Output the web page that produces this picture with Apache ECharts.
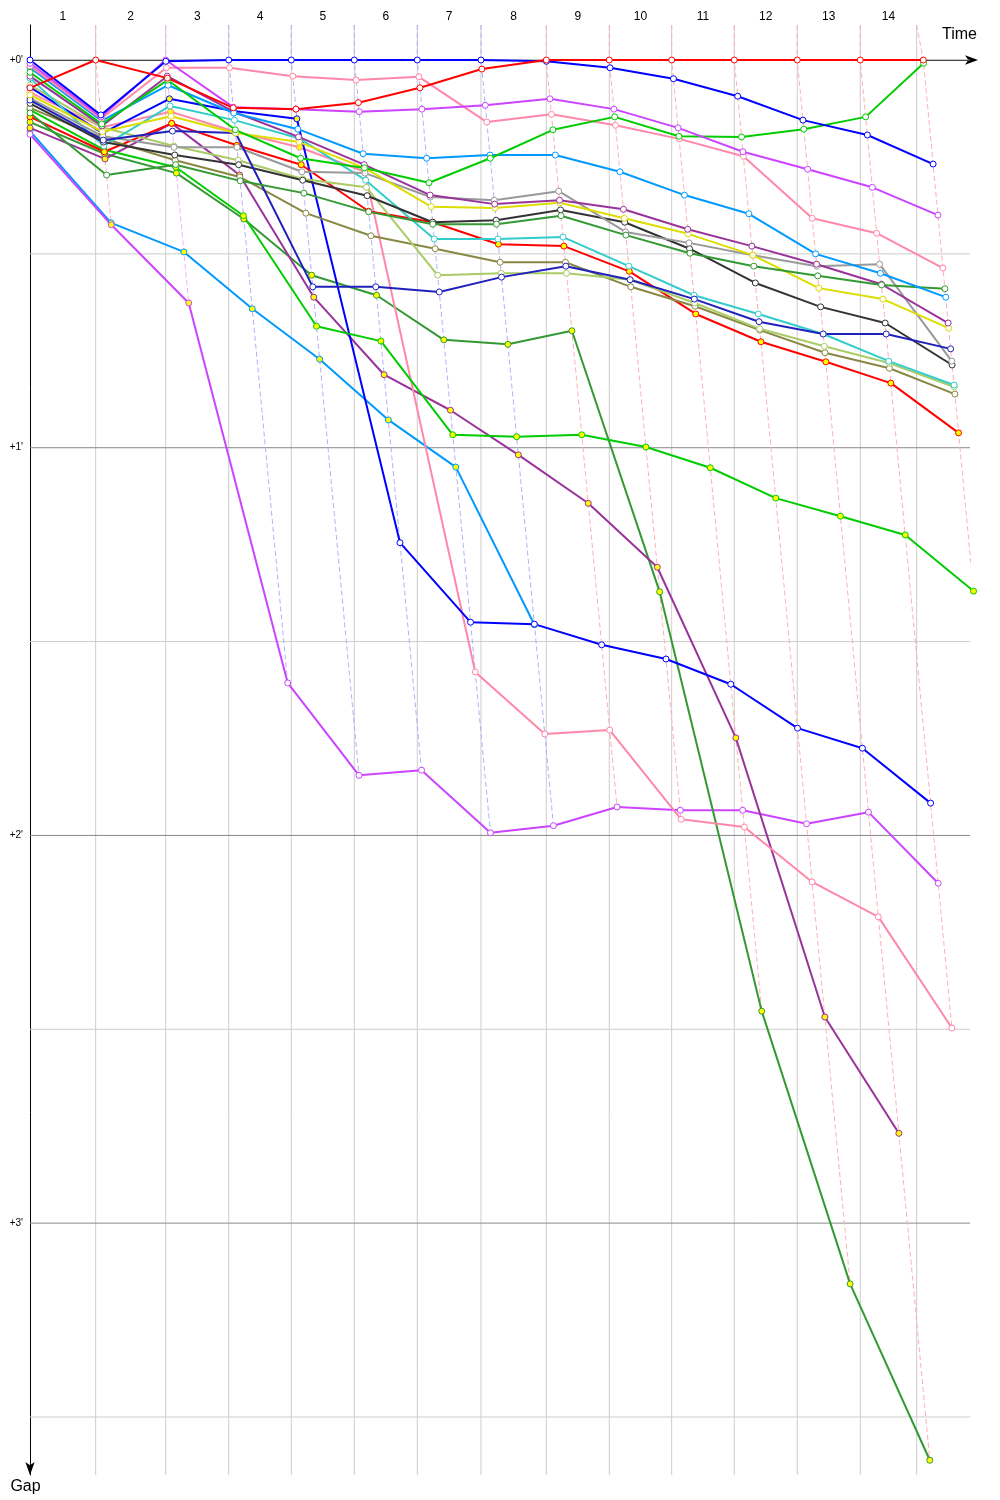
<!DOCTYPE html>
<html>
<head>
<meta charset="utf-8">
<script src="https://cdn.jsdelivr.net/npm/echarts@6/dist/echarts.min.js"></script>
<style>
  html, body { margin: 0; padding: 0; background: #fff; }
  #chart { width: 1000px; height: 1500px; }
</style>
</head>
<body>
<div id="chart"></div>
<script>
// temps (s) du leader à chaque tour, et lignes de grille verticales
var lapTimes = [0, 107.4, 221.9, 324.9, 427.2, 530.2, 633.2, 737.3, 844.1, 947.1, 1049.1, 1151.4, 1254.4, 1357.4, 1460.4];
var lapGrid = [107.4, 221.9, 324.9, 427.2, 530.2, 633.2, 737.3, 844.1, 947.1, 1049.1, 1151.4, 1254.4, 1357.4, 1449.6];
var lapLabels = ['1', '2', '3', '4', '5', '6', '7', '8', '9', '10', '11', '12', '13', '14'];
var gapTicks = [0, 60, 120, 180];
var gapHalfTicks = [30, 90, 150, 210];

// écarts (s) par tour, tour 0 = départ
var gapRed1 = [4.3, 0, 2.8, 7.4, 7.6, 6.6, 4.3, 1.4, 0, 0, 0, 0, 0, 0, 0];
var gapBlue1 = [0, 8.5, 0.2, 0, 0, 0, 0, 0, 0.2, 1.2, 2.9, 5.6, 9.3, 11.6, 16.1];
var gapMagenta1 = [0.5, 8.8, 0, 7.3, 7.6, 8.0, 7.6, 7.0, 6.0, 7.6, 10.5, 14.2, 16.9, 19.7, 24.0];
var gapPink1 = [0.9, 9.1, 1.2, 1.2, 2.5, 3.1, 2.6, 9.6, 8.4, 10.1, 12.2, 14.9, 24.5, 26.8, 32.2];
var gapLightBlue1 = [1.2, 9.4, 3.9, 8.2, 10.7, 14.5, 15.2, 14.7, 14.7, 17.3, 20.9, 23.8, 30.0, 33.0, 36.7];
var gapGreen1 = [1.9, 9.9, 3.1, 10.8, 15.2, 16.7, 19.0, 15.2, 10.8, 8.8, 11.8, 11.9, 10.7, 8.8, 0.5];
var gapPurple1 = [2.5, 10.2, 2.5, 8.0, 11.9, 16.2, 20.9, 22.3, 21.7, 23.1, 26.2, 28.8, 31.6, 34.7, 40.7];
var gapYellow = [5.4, 11.1, 8.7, 11.3, 12.7, 16.7, 22.7, 22.9, 22.1, 24.5, 26.9, 30.2, 35.3, 37.0, 41.5];
var gapNavy = [6.2, 12.4, 11.0, 11.3, 35.1, 35.1, 35.9, 33.6, 31.9, 34.0, 37.0, 40.5, 42.4, 42.4, 44.7];
var gapGray = [5.9, 11.8, 13.5, 13.5, 17.3, 17.5, 21.2, 21.7, 20.3, 26.6, 28.3, 30.2, 31.9, 31.6, 46.6];
var gapBlack = [6.7, 12.7, 14.7, 16.2, 18.6, 21.0, 25.1, 24.8, 23.2, 25.1, 29.2, 34.5, 38.2, 40.7, 47.2];
var gapCyan = [2.8, 13.3, 7.1, 9.3, 12.1, 18.6, 27.7, 27.7, 27.4, 31.9, 36.4, 39.3, 42.4, 46.6, 50.3];
var gapLightOlive = [3.9, 10.4, 13.3, 15.5, 18.4, 19.7, 33.3, 33.0, 33.0, 34.0, 37.6, 41.6, 44.3, 46.9, 50.6];
var gapOlive = [7.4, 12.1, 15.5, 18.1, 23.7, 27.2, 29.2, 31.3, 31.3, 35.1, 38.1, 41.8, 45.3, 47.7, 51.7];
var gapRed2 = [8.8, 14.2, 9.8, 13.2, 16.2, 23.4, 25.1, 28.5, 28.8, 32.7, 39.3, 43.6, 46.7, 50.0, 57.7];
var gapDarkGreen1 = [8.2, 17.8, 16.2, 18.7, 20.6, 23.5, 25.4, 25.4, 24.1, 27.1, 29.9, 31.9, 33.4, 34.8, 35.4];
var gapGreen2 = [7.7, 13.9, 16.6, 24.1, 41.2, 43.5, 58.0, 58.3, 58.0, 59.9, 63.1, 67.8, 70.6, 73.5, 82.2];
var gapDarkGreen2 = [9.6, 14.5, 17.5, 24.6, 33.3, 36.4, 43.3, 44.0, 41.9, 82.3, 147.2, 189.4, 216.7];
var gapPurple2 = [10.5, 15.3, 9.8, 17.8, 36.7, 48.7, 54.2, 61.1, 68.6, 78.5, 104.9, 148.1, 166.1];
var gapPink2 = [5.0, 10.4, 8.0, 11.1, 13.5, 17.3, 94.7, 104.3, 103.7, 117.5, 118.7, 127.2, 132.6, 149.8];
var gapBlue2 = [4.2, 11.3, 6.0, 7.9, 9.1, 74.7, 87.0, 87.3, 90.5, 92.7, 96.6, 103.4, 106.5, 115.0];
var gapMagenta2 = [11.5, 25.5, 37.6, 96.4, 110.7, 109.9, 119.6, 118.5, 115.6, 116.1, 116.1, 118.2, 116.4, 127.4];
var gapLightBlue2 = [11.0, 25.2, 29.7, 38.5, 46.3, 55.7, 63.0, 87.4];

// tours marqués en jaune
var markRed2 = [0, 1, 2, 3, 4, 5, 6, 7, 8, 9, 10, 11, 12, 13, 14];
var markGreen2 = [0, 1, 2, 3, 4, 5, 6, 7, 8, 9, 10, 11, 12, 13, 14];
var markDarkGreen2 = [0, 1, 2, 3, 4, 5, 6, 7, 8, 9, 10, 11, 12];
var markPurple2 = [0, 1, 2, 3, 4, 5, 6, 7, 8, 9, 10, 11, 12];
var markLightBlue2 = [0, 1, 2, 3, 4, 5, 6, 7];
var markMagenta2 = [1, 2];
var markBlue2 = [2, 3, 4];
var markPink2 = [2, 4, 5];

var cars = [
  [gapLightBlue2, '#0099ff', markLightBlue2],
  [gapMagenta2, '#cc44ff', markMagenta2],
  [gapDarkGreen2, '#339933', markDarkGreen2],
  [gapPurple2, '#993399', markPurple2],
  [gapPink2, '#ff88aa', markPink2],
  [gapBlue2, '#0000ff', markBlue2],
  [gapGreen2, '#00cc00', markGreen2],
  [gapRed2, '#ff0000', markRed2],
  [gapOlive, '#888844', []],
  [gapLightOlive, '#aacc66', []],
  [gapCyan, '#33cccc', []],
  [gapBlack, '#333333', []],
  [gapGray, '#999999', []],
  [gapNavy, '#2020bb', []],
  [gapYellow, '#dddd00', []],
  [gapPurple1, '#993399', []],
  [gapDarkGreen1, '#339933', []],
  [gapLightBlue1, '#0099ff', []],
  [gapPink1, '#ff88aa', []],
  [gapGreen1, '#00cc00', []],
  [gapMagenta1, '#cc44ff', []],
  [gapBlue1, '#0000ff', []],
  [gapRed1, '#ff0000', []]
];
var dashColor = { '#ff0000': '#ffb0b0', '#0000ff': '#b0b0ff', '#cc44ff': '#eeb0ff' };

var xMax = 1536.8, yMin = -5.42, yMax = 218.98;

function px(i, g) { return i === 0 ? 0 : lapTimes[i] + g; }

var series = [];

// grille
lapGrid.forEach(function(x) {
  series.push({ type: 'line', silent: true, symbol: 'none', z: 1,
    lineStyle: { color: '#cccccc', width: 1 }, data: [[x, yMin], [x, yMax]] });
});
gapHalfTicks.forEach(function(v) {
  series.push({ type: 'line', silent: true, symbol: 'none', z: 1,
    lineStyle: { color: '#cccccc', width: 1 }, data: [[0, v], [xMax, v]] });
});
gapTicks.forEach(function(v) {
  series.push({ type: 'line', silent: true, symbol: 'none', z: 1,
    lineStyle: { color: '#888888', width: 1 }, data: [[0, v], [xMax, v]] });
});

// lignes de tour (pointillés)
for (var n = 1; n < lapTimes.length; n++) {
  var pts = [], leader = null, best = Infinity;
  cars.forEach(function(c) {
    if (c[0].length > n) {
      pts.push([px(n, c[0][n]), c[0][n]]);
      if (c[0][n] <= best) { best = c[0][n]; leader = c[1]; }
    }
  });
  pts.sort(function(a, b) { return a[1] - b[1]; });
  pts.unshift([lapGrid[n - 1], yMin]);
  series.push({ type: 'line', silent: true, symbol: 'none', z: 2, clip: false,
    lineStyle: { color: dashColor[leader], width: 1, type: [5, 3] }, data: pts });
}

// pilotes
cars.forEach(function(c) {
  var marks = c[2];
  series.push({
    type: 'line', z: 3, silent: true, clip: false,
    symbol: 'circle', symbolSize: 6, showSymbol: true, showAllSymbol: true,
    lineStyle: { color: c[1], width: 2 },
    itemStyle: { color: '#ffffff', borderColor: c[1], borderWidth: 1 },
    data: c[0].map(function(g, i) {
      var d = { value: [px(i, g), g] };
      if (marks.indexOf(i) >= 0) d.itemStyle = { color: '#ffff00' };
      return d;
    })
  });
});

var labelPos = lapGrid.map(function(x, i) { return ((i === 0 ? 0 : lapGrid[i - 1]) + x) / 2; });

var chart = echarts.init(document.getElementById('chart'));
chart.setOption({
  animation: false,
  backgroundColor: '#ffffff',
  textStyle: { fontFamily: 'Liberation Sans, Arial, sans-serif' },
  grid: { left: 30, right: 30, top: 25, bottom: 25 },
  graphic: [{
    type: 'text', right: 23, top: 27,
    style: { text: 'Time', fontSize: 16, fontFamily: 'Liberation Sans, Arial, sans-serif', fill: '#000' }
  }],
  xAxis: {
    type: 'value', position: 'top', min: 0, max: xMax,
    axisLine: { show: true, symbol: ['none', 'arrow'], symbolSize: [7, 13], symbolOffset: [0, 8],
      lineStyle: { color: '#000', width: 1 } },
    axisTick: { show: false },
    splitLine: { show: false },
    axisLabel: { customValues: labelPos, fontSize: 12, color: '#000', margin: 2,
      formatter: function(v) { return lapLabels[labelPos.indexOf(v)]; } }
  },
  yAxis: {
    type: 'value', inverse: true, min: yMin, max: yMax,
    name: 'Gap', nameLocation: 'end', nameGap: 4, nameMoveOverlap: false,
    nameTextStyle: { fontSize: 16, color: '#000', align: 'center', verticalAlign: 'top', padding: [0, 9, 0, 0] },
    axisLine: { show: true, symbol: ['arrow', 'none'], symbolSize: [7, 13], symbolOffset: [0, 0],
      lineStyle: { color: '#000', width: 1 } },
    axisTick: { show: false },
    splitLine: { show: false },
    axisLabel: { customValues: gapTicks, fontSize: 10, color: '#000', margin: 7,
      formatter: function(v) { return '+' + (v / 60) + '\''; } }
  },
  series: series
});
</script>
</body>
</html>
